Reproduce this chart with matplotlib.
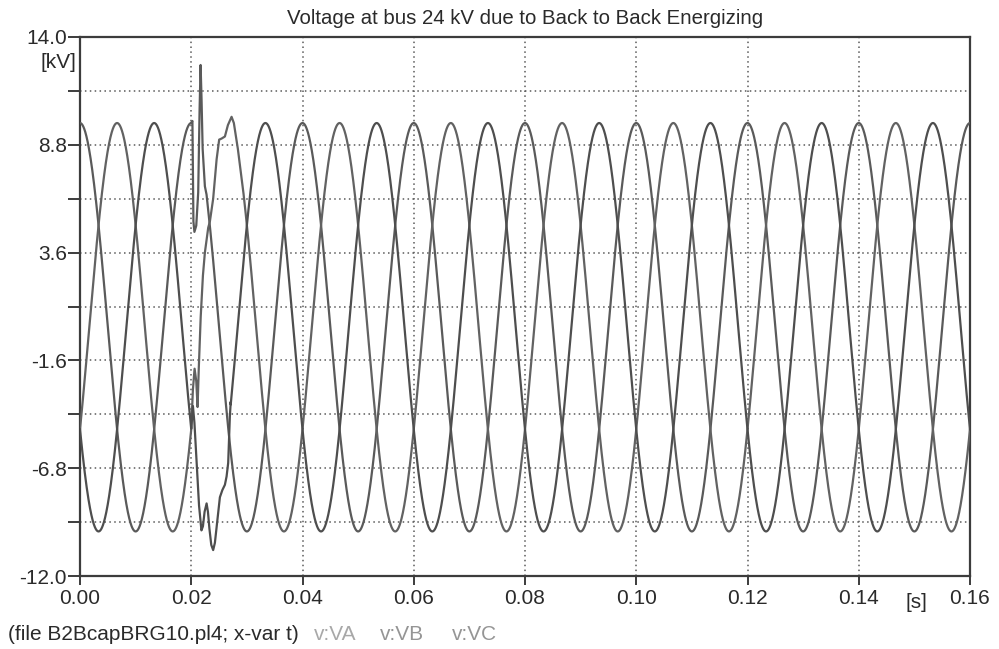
import numpy as np
import matplotlib
matplotlib.use("Agg")
import matplotlib.pyplot as plt
from matplotlib.ticker import FixedLocator

# ---- steady-state three-phase bus voltage ----
FREQ_HZ = 50.0
AMPLITUDE_KV = 9.85
PHASE_DEG = {"VA": 0.0, "VB": -120.0, "VC": 120.0}
T_END = 0.16

# ---- switching transient (back-to-back capacitor energizing at t = 0.02 s) ----
TRANS_A_T = [0.02000, 0.02021, 0.02039, 0.02057, 0.02090, 0.02125, 0.02150,
             0.02168, 0.02185, 0.02205, 0.02245, 0.02275]
TRANS_A_V = [9.85, 9.95, 5.10, 4.60, 4.90, 6.50, 10.50,
             12.65, 11.00, 8.60, 6.80, 6.40]

TRANS_B_T = [0.02000, 0.02030, 0.02060, 0.02090, 0.02114, 0.02135, 0.02170,
             0.02210, 0.02245, 0.02305, 0.02335, 0.02394, 0.02456, 0.02502,
             0.02545, 0.02605, 0.02659, 0.02725, 0.02766, 0.02838, 0.02874]
TRANS_B_V = [-4.90, -3.00, -2.00, -2.60, -3.85, -2.00, 0.50,
             2.50, 3.60, 4.80, 5.10, 6.20, 8.10, 9.05,
             9.10, 9.20, 9.75, 10.15, 9.85, 8.60, 7.85]

TRANS_C_T = [0.02000, 0.02030, 0.02057, 0.02102, 0.02140, 0.02183, 0.02210,
             0.02240, 0.02276, 0.02300, 0.02326, 0.02360, 0.02394, 0.02425,
             0.02466, 0.02515, 0.02560, 0.02605, 0.02635, 0.02664, 0.02682,
             0.02694, 0.02710]
TRANS_C_V = [-4.90, -3.80, -4.60, -6.80, -8.60, -9.80, -9.60,
             -8.90, -8.50, -8.90, -9.70, -10.50, -10.75, -10.40,
             -9.40, -8.20, -7.85, -7.60, -7.20, -6.55, -5.20,
             -4.30, -3.60]

Y_MIN, Y_MAX = -12.0, 14.0
Y_LABEL_TICKS = [14.0, 8.8, 3.6, -1.6, -6.8, -12.0]
Y_MINOR_TICKS = [11.4, 6.2, 1.0, -4.2, -9.4]
X_TICKS = [0.00, 0.02, 0.04, 0.06, 0.08, 0.10, 0.12, 0.14, 0.16]

TITLE = "Voltage at bus 24 kV due to Back to Back Energizing"
FOOTER = "(file B2BcapBRG10.pl4; x-var t)"
SERIES = ["VA", "VB", "VC"]
LINE_COLORS = {"VA": "#5a5a5a", "VB": "#626262", "VC": "#4e4e4e"}
LABEL_COLORS = {"VA": "#a8a8a8", "VB": "#959595", "VC": "#959595"}
LABEL_X_PX = {"VA": 314, "VB": 380, "VC": 452}


def phase_trace(name, tr_t, tr_v):
    t = np.linspace(0.0, T_END, 6401)
    v = AMPLITUDE_KV * np.cos(2 * np.pi * FREQ_HZ * t + np.radians(PHASE_DEG[name]))
    tr_t = np.asarray(tr_t)
    tr_v = np.asarray(tr_v)
    before = t < tr_t[0]
    after = t > tr_t[-1]
    return (np.concatenate([t[before], tr_t, t[after]]),
            np.concatenate([v[before], tr_v, v[after]]))


plt.rcParams["font.family"] = ["Liberation Sans", "DejaVu Sans"]
TEXT_COLOR = "#2a2a2a"
FS = 15

fig = plt.figure(figsize=(9.99, 6.49), dpi=100)
ax = fig.add_axes([80 / 999, 1 - 576 / 649, 890 / 999, 539 / 649])

transients = {"VA": (TRANS_A_T, TRANS_A_V),
              "VB": (TRANS_B_T, TRANS_B_V),
              "VC": (TRANS_C_T, TRANS_C_V)}
for name in SERIES:
    tt, vv = phase_trace(name, *transients[name])
    ax.plot(tt, vv, color=LINE_COLORS[name], lw=1.6, solid_joinstyle="round",
            zorder=3)

ax.set_xlim(0, T_END)
ax.set_ylim(Y_MIN, Y_MAX)

ax.xaxis.set_major_locator(FixedLocator(X_TICKS))
ax.set_xticklabels([f"{x:.2f}" for x in X_TICKS])
ax.yaxis.set_major_locator(FixedLocator(Y_LABEL_TICKS))
ax.set_yticklabels([f"{y:.1f}" for y in Y_LABEL_TICKS])
ax.yaxis.set_minor_locator(FixedLocator(Y_MINOR_TICKS))

grid_kw = dict(color="#5a5a5a", linestyle=(0, (1.0, 2.2)), linewidth=1.1)
for gx in X_TICKS[1:-1]:
    ax.axvline(gx, zorder=1, **grid_kw)
for gy in sorted(Y_LABEL_TICKS[1:-1] + Y_MINOR_TICKS):
    ax.axhline(gy, zorder=1, **grid_kw)

for sp in ax.spines.values():
    sp.set_color("#3c3c3c")
    sp.set_linewidth(1.6)

ax.tick_params(axis="y", which="both", direction="out", length=8.5, width=1.4,
               color="#3c3c3c", labelsize=FS, labelcolor=TEXT_COLOR, pad=1)
ax.tick_params(axis="x", which="major", direction="out", length=6.5, width=1.4,
               color="#3c3c3c", labelsize=FS, labelcolor=TEXT_COLOR, pad=3)

fig.text(525 / 999, 1 - 18 / 649, TITLE, ha="center", va="center",
         fontsize=14.7, color=TEXT_COLOR)
fig.text(76 / 999, 1 - 62 / 649, "[kV]", ha="right", va="center",
         fontsize=FS, color=TEXT_COLOR)
fig.text(916 / 999, 1 - 603 / 649, "[s]", ha="center", va="center",
         fontsize=FS, color=TEXT_COLOR)

fy = 1 - 634 / 649
fig.text(8 / 999, fy, FOOTER, ha="left", va="center", fontsize=FS,
         color=TEXT_COLOR)
for name in SERIES:
    fig.text(LABEL_X_PX[name] / 999, fy, f"v:{name}", ha="left", va="center",
             fontsize=FS, color=LABEL_COLORS[name])

fig.savefig("out.png", dpi=100, facecolor="white")
